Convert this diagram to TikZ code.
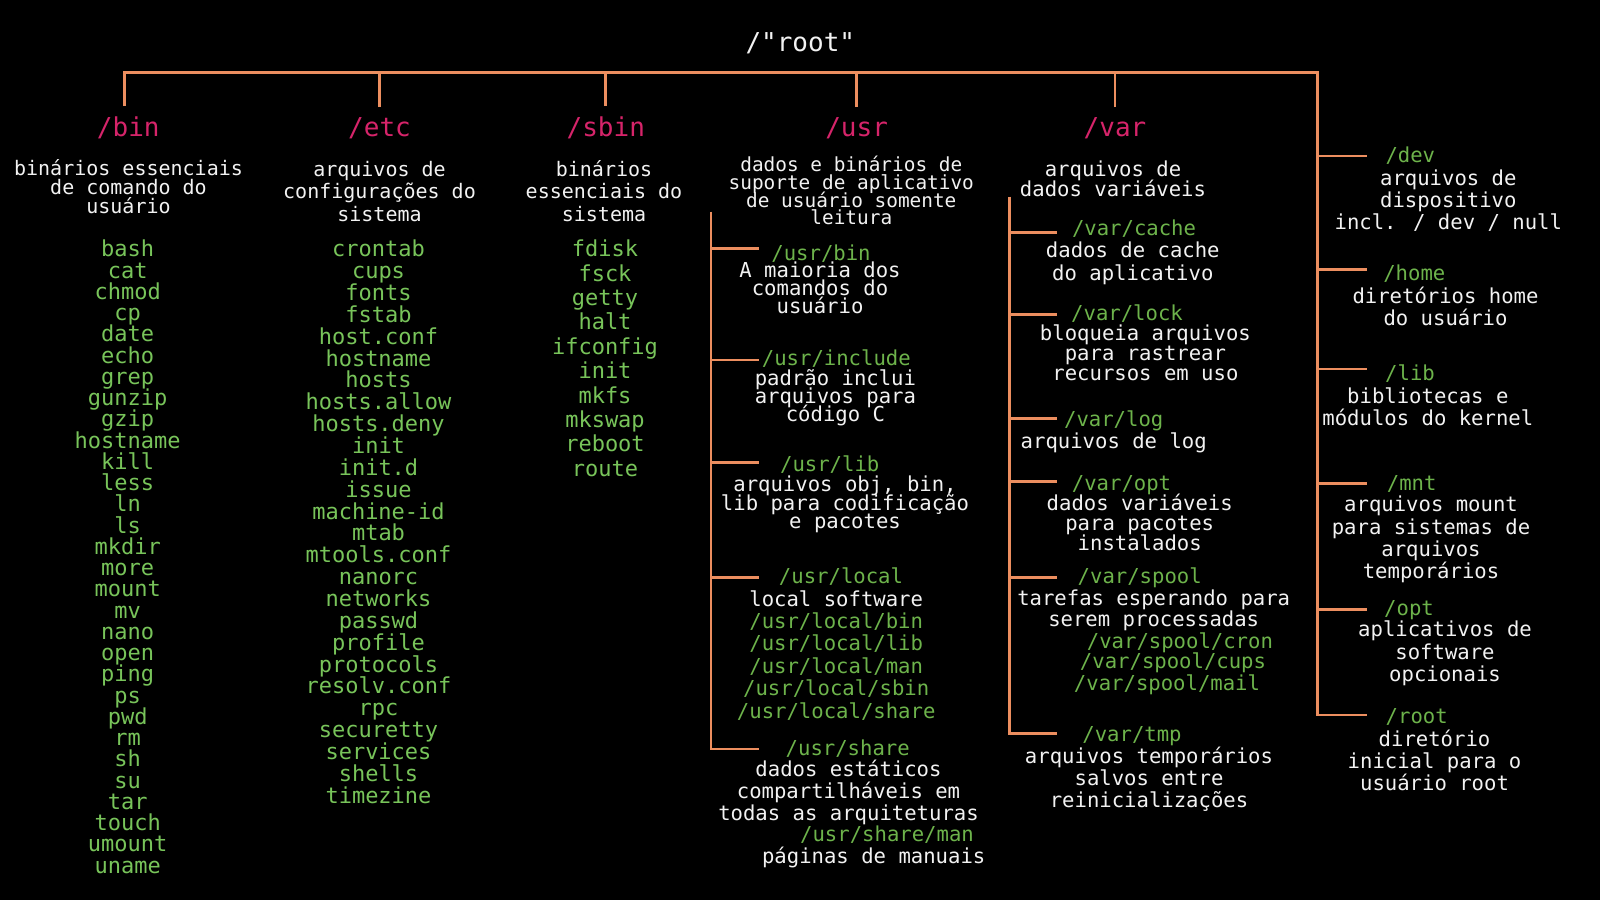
\documentclass[tikz,border=0pt]{standalone}
\usepackage{fontspec}
\newfontfamily\term{DejaVu Sans Mono}
\definecolor{wire}{HTML}{EC8E5F}
\definecolor{dirpink}{HTML}{D6246A}
\definecolor{listgreen}{HTML}{78C45A}
\definecolor{subgreen}{HTML}{6DB34B}
\definecolor{ink}{HTML}{F2F2F2}
% let closely set lines overlap instead of being pushed apart
\newcommand\tightlines{\lineskiplimit=-100pt\relax}

\begin{document}
% multi-line nodes sit on the baseline of their last line
\begin{tikzpicture}[x=1pt,y=-1pt,
  every node/.style={inner sep=0pt, outer sep=0pt, anchor=base, align=center},
  branch/.style={draw=wire, line width=2.7pt},
  rootlbl/.style={text=ink, font=\term\fontsize{26}{30}\selectfont},
  head/.style={text=dirpink, font=\term\fontsize{26}{30}\selectfont},
  desc/.style 2 args={text=ink, font=\term\fontsize{#1}{#2}\selectfont\tightlines},
  item/.style={text=listgreen, font=\term\fontsize{22}{#1}\selectfont\tightlines},
  lbl/.style={text=subgreen, font=\term\fontsize{20.6}{22}\selectfont},
]
\useasboundingbox[fill=black] (0,0) rectangle (1600,900);

% ---------- root and first level ----------
\node[rootlbl] (root) at (800.3,51.7) {/"root"};
\coordinate (rtop) at (1317.5,72.7);

\node[head] (bin)  at (128.3,136) {/bin};
\node[head] (etc)  at (379.5,136) {/etc};
\node[head] (sbin) at (605.8,136) {/sbin};
\node[head] (usr)  at (856.6,136) {/usr};
\node[head] (var)  at (1115,136)  {/var};

\node[desc={20}{18.8}]   (bindesc)  at (128.5,213.3) {binários essenciais\\de comando do\\usuário};
\node[desc={20}{22.2}]   (etcdesc)  at (379.5,221.1) {arquivos de\\configurações do\\sistema};
\node[desc={20}{22.2}]   (sbindesc) at (604,221.1)   {binários\\essenciais do\\sistema};
\node[desc={19.4}{17.7}] (usrdesc)  at (851.3,224.8) {dados e binários de\\suporte de aplicativo\\de usuário somente\\leitura};
\node[desc={20.6}{20}]   (vardesc)  at (1113,196.7)  {arquivos de\\dados variáveis};

% ---------- command and file lists ----------
\node[item=21.25] (binlist) at (127.7,873) {bash\\cat\\chmod\\cp\\date\\echo\\grep\\gunzip\\gzip\\hostname\\kill\\less\\ln\\ls\\mkdir\\more\\mount\\mv\\nano\\open\\ping\\ps\\pwd\\rm\\sh\\su\\tar\\touch\\umount\\uname};
\node[item=21.86] (etclist) at (378.5,803.2) {crontab\\cups\\fonts\\fstab\\host.conf\\hostname\\hosts\\hosts.allow\\hosts.deny\\init\\init.d\\issue\\machine-id\\mtab\\mtools.conf\\nanorc\\networks\\passwd\\profile\\protocols\\resolv.conf\\rpc\\securetty\\services\\shells\\timezine};
\node[item=24.4] (sbinlist) at (605,476.3) {fdisk\\fsck\\getty\\halt\\ifconfig\\init\\mkfs\\mkswap\\reboot\\route};

% ---------- /usr subtree ----------
\coordinate (utop) at (711,211.7);
\node[lbl] (ubin) at (821,260) {/usr/bin};
\node[desc={20.6}{18}] (ubindesc) at (820,313.3) {A maioria dos\\comandos do\\usuário};
\node[lbl] (uinc) at (836.3,365.7) {/usr/include};
\node[desc={20.6}{18.3}] (uincdesc) at (835.4,421.6) {padrão inclui\\arquivos para\\código C};
\node[lbl] (ulib) at (829.7,471.7) {/usr/lib};
\node[desc={20.6}{18.3}] (ulibdesc) at (845,528.3) {arquivos obj, bin,\\lib para codificação\\e pacotes};
\node[lbl] (uloc) at (841,583.3) {/usr/local};
\node[desc={20.6}{22}] (ulocdesc) at (836.2,606) {local software};
\node[lbl, font=\term\fontsize{20.6}{22.5}\selectfont\tightlines] (uloclist) at (836.2,718.3) {/usr/local/bin\\/usr/local/lib\\/usr/local/man\\/usr/local/sbin\\/usr/local/share};
\node[lbl] (ushare) at (847.7,755) {/usr/share};
\node[desc={20.6}{21.7}] (usharedesc) at (848.5,820.1) {dados estáticos\\compartilháveis em\\todas as arquiteturas};
\node[lbl] (uman) at (887,841.7) {/usr/share/man};
\node[desc={20.6}{22}] (umandesc) at (873.7,863.3) {páginas de manuais};

\coordinate (ubin-t)   at (759,248.3);
\coordinate (uinc-t)   at (759,360);
\coordinate (ulib-t)   at (759,462.7);
\coordinate (uloc-t)   at (759,577.7);
\coordinate (ushare-t) at (759,749);
\draw[branch] (utop) |- (ushare-t);
\foreach \t in {ubin-t,uinc-t,ulib-t,uloc-t}
  \draw[branch] (utop |- \t) -- (\t);

% ---------- /var subtree ----------
\coordinate (vtop) at (1009.8,196.7);
\node[lbl] (vcache) at (1134,235) {/var/cache};
\node[desc={20.6}{22.7}] (vcachedesc) at (1132.8,280) {dados de cache\\do aplicativo};
\node[lbl] (vlock) at (1127,320.7) {/var/lock};
\node[desc={20.6}{20}] (vlockdesc) at (1145.4,380) {bloqueia arquivos\\para rastrear\\recursos em uso};
\node[lbl] (vlog) at (1113.7,426.7) {/var/log};
\node[desc={20.6}{22}] (vlogdesc) at (1113.7,448.3) {arquivos de log};
\node[lbl] (vopt) at (1121.5,490.7) {/var/opt};
\node[desc={20.6}{19.8}] (voptdesc) at (1139.7,550.3) {dados variáveis\\para pacotes\\instalados};
\node[lbl] (vspool) at (1139.7,583.3) {/var/spool};
\node[desc={20.6}{21.7}] (vspooldesc) at (1153.7,626.7) {tarefas esperando para\\serem processadas};
\node[lbl] (vcron) at (1179.9,648.3) {/var/spool/cron};
\node[lbl] (vcups) at (1173,668.3)   {/var/spool/cups};
\node[lbl] (vmail) at (1167,690)     {/var/spool/mail};
\node[lbl] (vtmp) at (1132,741.7) {/var/tmp};
\node[desc={20.6}{22}] (vtmpdesc) at (1149,807.3) {arquivos temporários\\salvos entre\\reinicializações};

\coordinate (vcache-t) at (1057,232.3);
\coordinate (vlock-t)  at (1057,314.3);
\coordinate (vlog-t)   at (1057,418.3);
\coordinate (vopt-t)   at (1057,481.7);
\coordinate (vspool-t) at (1057,577.7);
\coordinate (vtmp-t)   at (1057,733.3);
\draw[branch] (vtop) |- (vtmp-t);
\foreach \t in {vcache-t,vlock-t,vlog-t,vopt-t,vspool-t}
  \draw[branch] (vtop |- \t) -- (\t);

% ---------- right-hand directories ----------
\node[lbl] (dev) at (1410.3,162.7) {/dev};
\node[desc={20.6}{22}] (devdesc) at (1448.3,229) {arquivos de\\dispositivo\\incl. / dev / null};
\node[lbl] (home) at (1414.3,280) {/home};
\node[desc={20.6}{21.7}] (homedesc) at (1445.5,325) {diretórios home\\do usuário};
\node[lbl] (lib) at (1410,380) {/lib};
\node[desc={20.6}{21.7}] (libdesc) at (1427.8,425) {bibliotecas e\\módulos do kernel};
\node[lbl] (mnt) at (1411.7,490) {/mnt};
\node[desc={20.6}{22.4}] (mntdesc) at (1431,578.9) {arquivos mount\\para sistemas de\\arquivos\\temporários};
\node[lbl] (opt) at (1409,615.5) {/opt};
\node[desc={20.6}{22.5}] (optdesc) at (1445,681.7) {aplicativos de\\software\\opcionais};
\node[lbl] (rootdir) at (1416.7,723.3) {/root};
\node[desc={20.6}{22.4}] (rootdesc) at (1434.5,790.8) {diretório\\inicial para o\\usuário root};

\coordinate (dev-t)  at (1367,156);
\coordinate (home-t) at (1367,269.3);
\coordinate (lib-t)  at (1367,369);
\coordinate (mnt-t)  at (1367,483.3);
\coordinate (opt-t)  at (1367,609.3);
\coordinate (root-t) at (1367,715);

% ---------- main branches ----------
\draw[branch] ([xshift=-3.5pt,yshift=10pt]bin.north) |- (rtop) |- (root-t);
\foreach \d in {etc,sbin,usr,var}
  \draw[branch] ([yshift=10pt]\d.north) -- (\d.north |- rtop);
\foreach \t in {dev-t,home-t,lib-t,mnt-t,opt-t}
  \draw[branch] (rtop |- \t) -- (\t);
\end{tikzpicture}
\end{document}
